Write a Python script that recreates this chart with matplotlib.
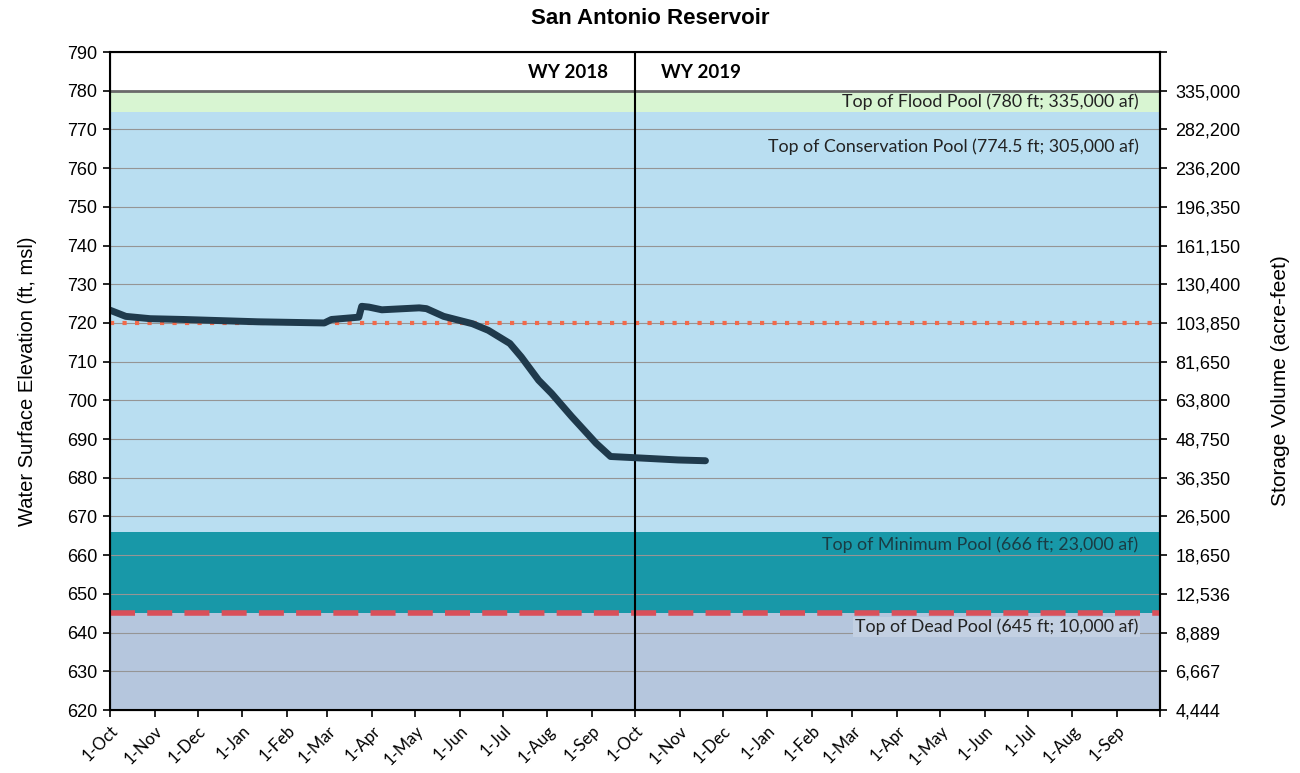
import matplotlib
matplotlib.use("Agg")
import matplotlib.pyplot as plt
import pandas as pd

plt.rcParams.update({
    'font.family': ['Liberation Sans', 'DejaVu Sans'],
    'font.size': 11,
})

# elevation record (ft, msl)
dates = pd.to_datetime([
    '2017-10-01', '2017-10-12', '2017-10-29', '2017-11-21', '2018-01-12',
    '2018-02-27', '2018-03-04', '2018-03-20', '2018-03-23', '2018-03-25',
    '2018-03-30', '2018-04-08', '2018-05-04', '2018-05-09', '2018-05-21',
    '2018-06-10', '2018-06-21', '2018-07-06', '2018-07-14', '2018-07-26',
    '2018-08-04', '2018-08-18', '2018-09-04', '2018-09-14', '2018-09-30',
    '2018-10-31', '2018-11-19',
])
elev = [723.3, 721.7, 721.1, 720.9, 720.3,
        720.0, 720.9, 721.4, 721.5, 724.3,
        724.1, 723.4, 723.9, 723.7, 721.7,
        719.8, 718.1, 714.7, 711.2, 705.2,
        701.8, 695.8, 688.9, 685.5, 685.2,
        684.6, 684.4]

# pool levels (ft)
flood_top = 780
cons_top = 774.5
min_top = 666
dead_top = 645
target = 720

elev_ticks = list(range(620, 791, 10))
storage_labels = ['4,444', '6,667', '8,889', '12,536', '18,650', '26,500',
                  '36,350', '48,750', '63,800', '81,650', '103,850', '130,400',
                  '161,150', '196,350', '236,200', '282,200', '335,000', '']

month_ticks = pd.date_range('2017-10-01', '2019-10-01', freq='MS')
month_labels = [d.strftime('1-%b') for d in month_ticks[:-1]] + ['']

wy_split = pd.Timestamp('2018-10-01')
x0, x1 = month_ticks[0], month_ticks[-1]

fig = plt.figure(figsize=(13, 7.73), dpi=100)
ax = fig.add_axes([0.0846, 0.0815, 0.8077, 0.8512])

# pool bands
ax.axhspan(620, dead_top, color='#b5c6dd', lw=0, zorder=0)
ax.axhspan(dead_top, min_top, color='#1898a8', lw=0, zorder=0)
ax.axhspan(min_top, cons_top, color='#b9def1', lw=0, zorder=0)
ax.axhspan(cons_top, flood_top, color='#d8f5d2', lw=0, zorder=0)

for v in elev_ticks:
    if v in (620, 790):
        continue
    ax.axhline(v, color='#959595', lw=0.8, zorder=1)
ax.axhline(flood_top, color='#6a6a6a', lw=2.0, zorder=2)

ax.axhline(target, color='#f26a4b', lw=3.0, ls=(0, (1, 2)), zorder=3)
ax.axhline(dead_top, color='#d9505a', lw=4.0, ls=(0, (4.5, 2.2)), zorder=3)

ax.axvline(wy_split, color='black', lw=1.5, zorder=4)

ax.plot(dates, elev, color='#1f3a4c', lw=5, solid_capstyle='round',
        solid_joinstyle='round', zorder=5)

ax.set_xlim(x0, x1)
ax.set_ylim(620, 790)
ax.set_yticks(elev_ticks)
ax.set_xticks(month_ticks)
ax.set_xticklabels(month_labels, rotation=45, ha='right', rotation_mode='anchor',
                   family=['Lato', 'DejaVu Sans'], fontsize=12)
ax.tick_params(axis='x', length=5, width=1.2, pad=4)
ax.tick_params(axis='y', length=5, width=1.2, labelsize=13, pad=4)
for s in ax.spines.values():
    s.set_linewidth(1.5)
ax.set_ylabel('Water Surface Elevation (ft, msl)', fontsize=14.5, labelpad=22)

ax2 = ax.twinx()
ax2.set_ylim(620, 790)
ax2.set_yticks(elev_ticks)
ax2.set_yticklabels(storage_labels)
ax2.tick_params(axis='y', length=5, width=1.2, labelsize=13, pad=6)
ax2.spines['right'].set_linewidth(1.5)
ax2.set_ylabel('Storage Volume (acre-feet)', fontsize=15, labelpad=22)

# annotations
lab_font = ['Lato', 'DejaVu Sans']
xr = pd.Timestamp('2019-09-16')
ax.text(wy_split - pd.Timedelta(days=19), 784.8, 'WY 2018', ha='right', va='center',
        fontsize=13.5, fontweight='bold', family=lab_font, zorder=6)
ax.text(wy_split + pd.Timedelta(days=18), 784.8, 'WY 2019', ha='left', va='center',
        fontsize=13.5, fontweight='bold', family=lab_font, zorder=6)
ax.text(xr, 777.1, 'Top of Flood Pool (780 ft; 335,000 af)', ha='right', va='center',
        fontsize=12.8, family=lab_font, color='#222222', zorder=6)
ax.text(xr, 765.5, 'Top of Conservation Pool (774.5 ft; 305,000 af)', ha='right', va='center',
        fontsize=12.8, family=lab_font, color='#222222', zorder=6)
ax.text(xr, 662.8, 'Top of Minimum Pool (666 ft; 23,000 af)', ha='right', va='center',
        fontsize=12.8, family=lab_font, color='#1a3c44', zorder=6)
ax.text(xr, 641.4, 'Top of Dead Pool (645 ft; 10,000 af)', ha='right', va='center',
        fontsize=12.8, family=lab_font, color='#222222', zorder=6,
        bbox=dict(boxstyle='square,pad=0.1', facecolor='#c3d0e2', edgecolor='none'))

fig.text(0.5, 0.976, 'San Antonio Reservoir', ha='center', va='center',
         fontsize=16, fontweight='bold')

fig.savefig('out.png', dpi=100, facecolor='white')
